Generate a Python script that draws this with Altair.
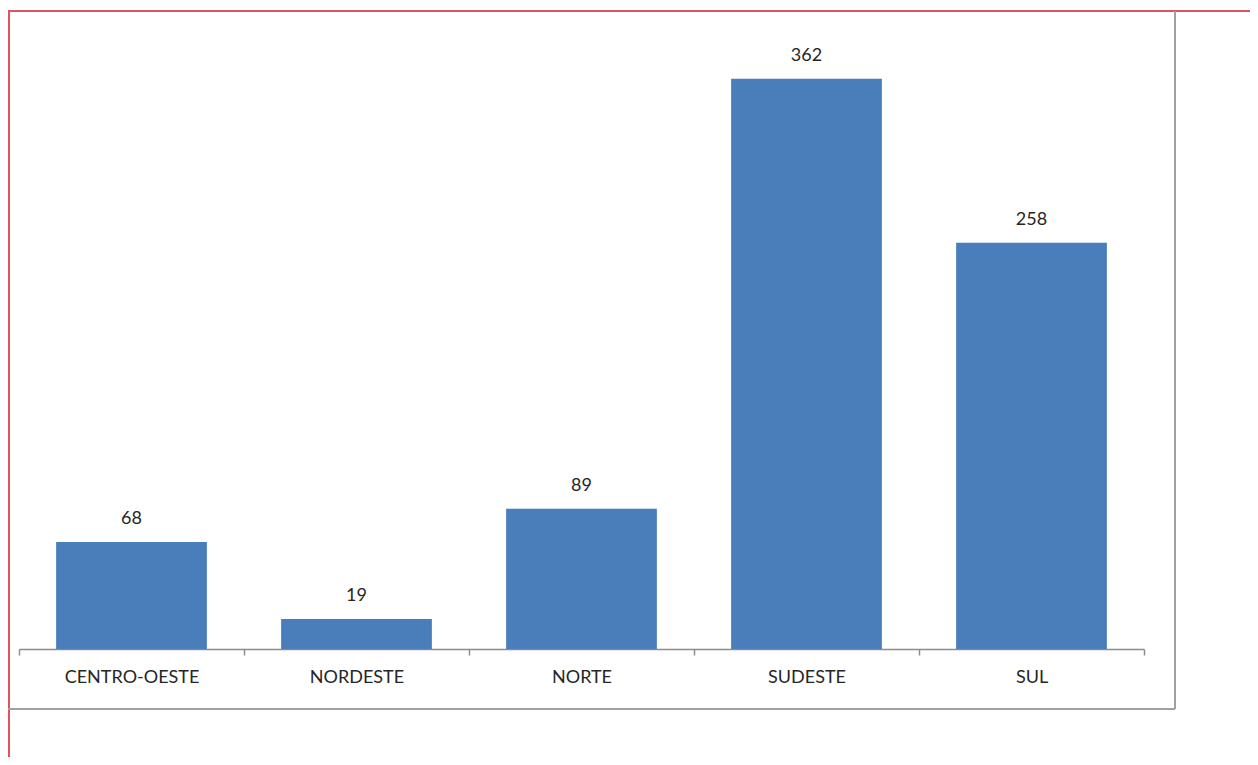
import altair as alt
import pandas as pd

categories = ["CENTRO-OESTE", "NORDESTE", "NORTE", "SUDESTE", "SUL"]
values = [68, 19, 89, 362, 258]

df = pd.DataFrame({"regiao": categories, "valor": values})

W, H = 1125, 630
FONT = "Lato"

x_enc = alt.X("regiao:N", sort=categories, title=None,
              scale=alt.Scale(paddingInner=0, paddingOuter=0),
              axis=alt.Axis(labelAngle=0, tickBand="extent", domainColor="#8c8c8c",
                            tickColor="#8c8c8c", domainWidth=1.5, tickWidth=1.5,
                            tickSize=6, labelPadding=13, labelFont=FONT,
                            labelFontSize=18, labelColor="#262626", grid=False))
y_enc = alt.Y("valor:Q", scale=alt.Scale(domain=[0, 400], nice=False), axis=None)

bars = alt.Chart(df).mark_bar(color="#4A7EBB", width={"band": 0.67}).encode(x=x_enc, y=y_enc)
labels = alt.Chart(df).mark_text(baseline="alphabetic", dy=-18, font=FONT,
                                 fontSize=18, color="#262626").encode(
    x=alt.X("regiao:N", sort=categories), y="valor:Q", text="valor:Q")

def rule(x1, x2, y1, y2, color):
    return alt.Chart(df.head(1)).mark_rule(color=color, strokeWidth=2).encode(
        x=alt.value(x1), x2=alt.value(x2), y=alt.value(y1), y2=alt.value(y2))

frame = (rule(-11, 1231, -8, -8, "#e05262") + rule(-10, -10, -8, 738, "#e05262")
         + rule(1156, 1156, -8, 690, "#a0a0a0") + rule(-11, 1156, 690, 690, "#a0a0a0"))

chart = alt.layer(bars, labels, frame).properties(
    width=W, height=H,
    autosize=alt.AutoSizeParams(type="none"),
    padding={"left": 11, "top": 11, "right": 106, "bottom": 108},
).configure_view(stroke=None)

chart.save("out.html", embed_options={"renderer": "svg", "actions": False})
